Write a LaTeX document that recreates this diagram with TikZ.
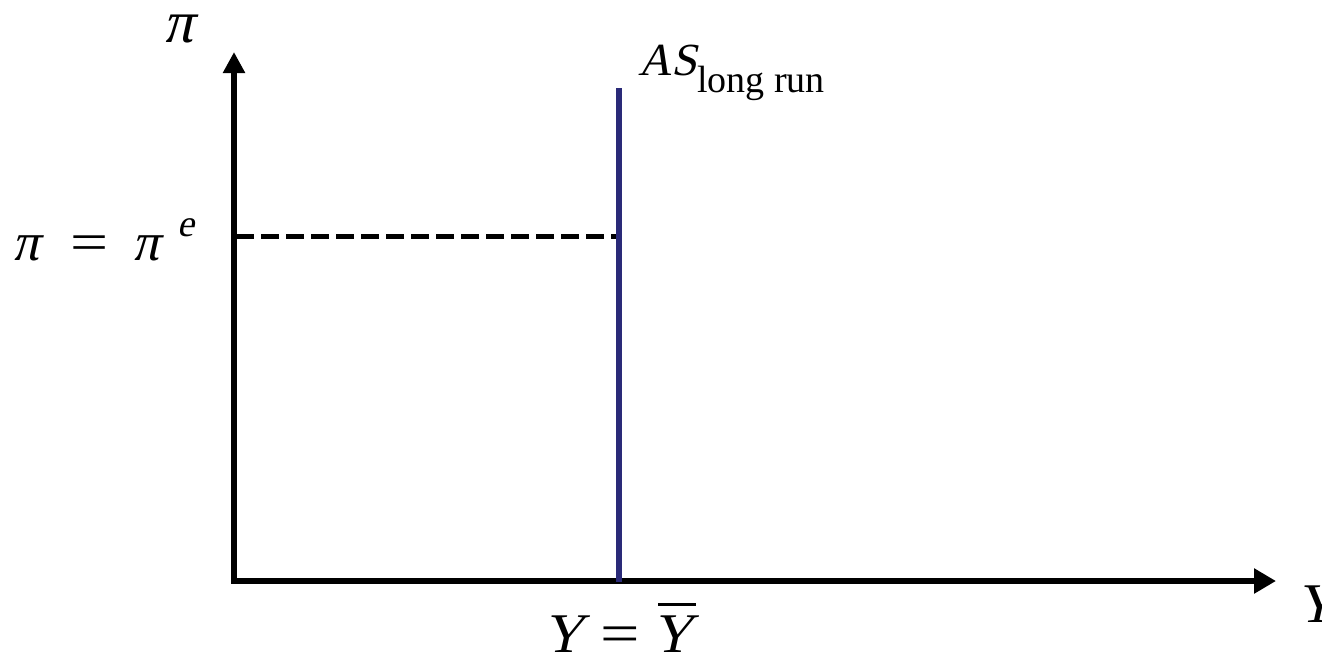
\documentclass[tikz,border=0pt]{standalone}
\usepackage{fontspec}
\usepackage{graphicx}
\setmainfont{Liberation Serif}
\newfontfamily\slfont{Liberation Serif}[FakeSlant=0.22]
\newcommand{\mysl}[1]{{\slfont #1}}
\newcommand{\wideeq}{\scalebox{1.25}[1]{=}}
\usetikzlibrary{arrows.meta}
\definecolor{asblue}{RGB}{42,42,120}
\begin{document}
\begin{tikzpicture}[x=1pt,y=-1pt,
  axisline/.style={line width=6.5pt, line join=miter,
    {Triangle[length=21pt,width=21pt]}-{Triangle[length=22pt,width=24pt]}},
  asline/.style={line width=5.5pt, draw=asblue},
  guideline/.style={line width=5pt, dash pattern=on 18pt off 7pt},
  lbl/.style={inner sep=0pt, anchor=base west}]
\useasboundingbox (0,0) rectangle (1322,654);
\coordinate (ytop) at (234,52);
\coordinate (O) at (234,581);
\coordinate (xend) at (1276,581);
\coordinate (AStop) at (619,88);
\coordinate (ASbot) at (619,582);
\coordinate (dstart) at (236,236);
\coordinate (dend) at (616,236);
\draw[axisline] (ytop) -- (O) -- (xend);
\draw[guideline] (dstart) -- (dend);
\draw[asline] (AStop) -- (ASbot);
\node[lbl] (pilab) at (163,42) {\fontsize{60}{60}\selectfont\mysl{π}};
\node[lbl] (eqlab) at (12,260) {\fontsize{54}{54}\selectfont\mysl{π}\hspace{31pt}\wideeq\hspace{24pt}\mysl{π}\hspace{18pt}\raisebox{24pt}{\fontsize{38}{38}\selectfont\mysl{e}}};
\node[lbl] (aslab) at (638,75) {\fontsize{46}{46}\selectfont\mysl{AS}\raisebox{-17pt}{\fontsize{38}{38}\selectfont long run}};
\node[lbl] (ylab) at (543,652) {\fontsize{56}{56}\selectfont\mysl{Y}\hspace{17pt}\wideeq\hspace{12pt}\makebox[0pt][l]{\hspace{6pt}\raisebox{46pt}{\rule{38pt}{3pt}}}\mysl{Y}};
\node[lbl] (yaxlab) at (1296,622) {\fontsize{56}{56}\selectfont\mysl{Y}};
\end{tikzpicture}
\end{document}
